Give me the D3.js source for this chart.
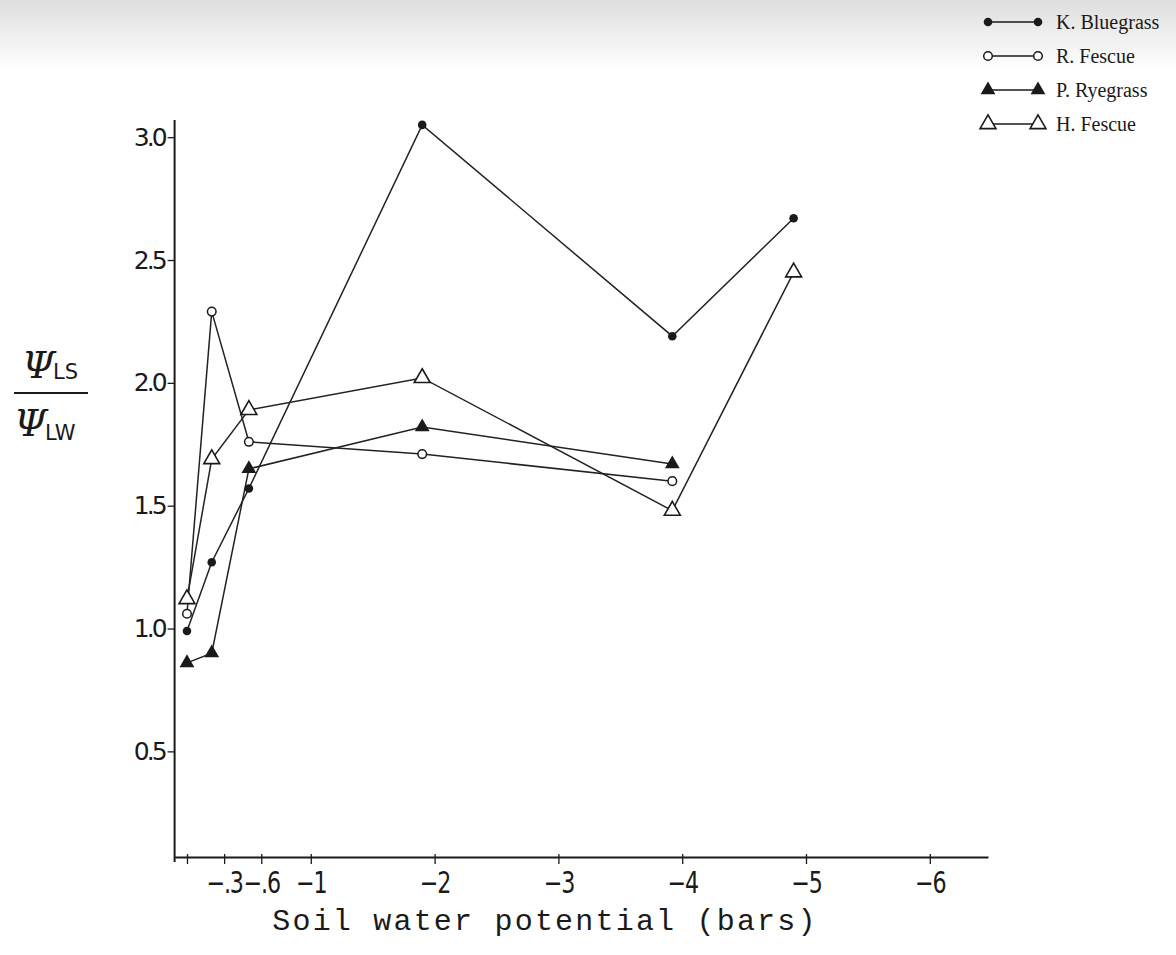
<!DOCTYPE html>
<html>
<head>
<meta charset="utf-8">
<script src="https://cdn.jsdelivr.net/npm/d3@7"></script>
<style>
  body { margin: 0; background: #fff; }
  svg { display: block; }
</style>
</head>
<body>
<svg id="chart"></svg>
<script>
// soil water potential (bars) at each sampling
var potentials = [0, -0.2, -0.5, -1.9, -3.92, -4.9];

var kBluegrass = [0.99, 1.27, 1.57, 3.05, 2.19, 2.67];
var rFescue    = [1.06, 2.29, 1.76, 1.71, 1.60];
var pRyegrass  = [0.86, 0.90, 1.65, 1.82, 1.67];
var hFescue    = [1.12, 1.69, 1.89, 2.02, 1.48, 2.45];

var seriesNames = ['K. Bluegrass', 'R. Fescue', 'P. Ryegrass', 'H. Fescue'];

var xTicks = [0, -0.3, -0.6, -1, -2, -3, -4, -5, -6];
var xTickLabels = ['', '\u2212.3', '\u2212.6', '\u22121', '\u22122', '\u22123', '\u22124', '\u22125', '\u22126'];
var yTicks = [0.5, 1.0, 1.5, 2.0, 2.5, 3.0];
var yTickLabels = ['0.5', '1.0', '1.5', '2.0', '2.5', '3.0'];

var width = 1176, height = 955;
var svg = d3.select('#chart').attr('width', width).attr('height', height);

// faint scan shading along the top edge
var defs = svg.append('defs');
var grad = defs.append('linearGradient').attr('id', 'topShade')
  .attr('x1', 0).attr('y1', 0).attr('x2', 0).attr('y2', 1);
grad.append('stop').attr('offset', '0%').attr('stop-color', '#dedede');
grad.append('stop').attr('offset', '100%').attr('stop-color', '#ffffff');
svg.append('rect').attr('width', width).attr('height', height).attr('fill', '#fff');
svg.append('rect').attr('width', width).attr('height', 70).attr('fill', 'url(#topShade)');

var x = d3.scaleLinear().domain([0.1, -6.47]).range([174.6, 988]);
var y = d3.scaleLinear().domain([0.07, 3.07]).range([857, 120]);

var ink = '#1a1a1a';

// x axis
var xAxis = d3.axisBottom(x)
  .tickValues(xTicks)
  .tickFormat(function (d, i) { return xTickLabels[i]; })
  .tickSizeInner(7)
  .tickSizeOuter(0)
  .tickPadding(8);

var gx = svg.append('g').attr('transform', 'translate(0,' + y(0.07) + ')').call(xAxis);
gx.select('.domain').attr('stroke', ink).attr('stroke-width', 1.8);
gx.selectAll('.tick line').attr('stroke', ink).attr('stroke-width', 1.3).attr('y1', -3);
gx.selectAll('.tick text')
  .attr('fill', ink)
  .attr('font-family', 'DejaVu Sans')
  .attr('font-size', 30)
  .attr('letter-spacing', -1.5)
  .attr('transform', 'scale(0.74,1)');

// y axis
var yAxis = d3.axisLeft(y)
  .tickValues(yTicks)
  .tickFormat(function (d, i) { return yTickLabels[i]; })
  .tickSizeInner(7)
  .tickSizeOuter(0)
  .tickPadding(3);

var gy = svg.append('g').attr('transform', 'translate(' + x(0.1) + ',0)').call(yAxis);
gy.select('.domain').attr('stroke', ink).attr('stroke-width', 2).attr('d', 'M0,' + y(3.07) + 'V' + (y(0.07) + 5));
gy.selectAll('.tick line').attr('stroke', ink).attr('stroke-width', 1.3);
gy.selectAll('.tick text')
  .attr('fill', ink)
  .attr('font-family', 'DejaVu Sans')
  .attr('font-size', 25)
  .attr('letter-spacing', -3);

// axis titles
svg.append('text')
  .attr('x', 545).attr('y', 930)
  .attr('text-anchor', 'middle')
  .attr('font-family', 'Liberation Mono')
  .attr('font-size', 30)
  .attr('letter-spacing', 2.2)
  .attr('fill', ink)
  .text('Soil water potential (bars)');

var ylab = svg.append('g').attr('fill', ink);
ylab.append('text').attr('x', 22).attr('y', 378)
  .attr('font-family', 'DejaVu Serif').attr('font-style', 'italic').attr('font-size', 38).text('\u03A8');
ylab.append('text').attr('x', 53).attr('y', 379)
  .attr('font-family', 'DejaVu Sans').attr('font-size', 21).text('LS');
ylab.append('line').attr('x1', 14).attr('x2', 88).attr('y1', 393).attr('y2', 393)
  .attr('stroke', ink).attr('stroke-width', 2.2);
ylab.append('text').attr('x', 14).attr('y', 436)
  .attr('font-family', 'DejaVu Serif').attr('font-style', 'italic').attr('font-size', 38).text('\u03A8');
ylab.append('text').attr('x', 45).attr('y', 440)
  .attr('font-family', 'DejaVu Sans').attr('font-size', 21).text('LW');

// series
var series = [
  { name: seriesNames[0], values: kBluegrass, marker: 'dot' },
  { name: seriesNames[1], values: rFescue, marker: 'ring' },
  { name: seriesNames[2], values: pRyegrass, marker: 'tri' },
  { name: seriesNames[3], values: hFescue, marker: 'opentri' }
];

var line = d3.line()
  .x(function (d) { return x(d[0]); })
  .y(function (d) { return y(d[1]); });

function drawMarker(g, kind, cx, cy) {
  if (kind === 'dot') {
    g.append('circle').attr('cx', cx).attr('cy', cy).attr('r', 4.3).attr('fill', ink);
  } else if (kind === 'ring') {
    g.append('circle').attr('cx', cx).attr('cy', cy).attr('r', 4.3)
      .attr('fill', '#fff').attr('stroke', ink).attr('stroke-width', 1.5);
  } else if (kind === 'tri') {
    g.append('path').attr('d', d3.symbol(d3.symbolTriangle, 95)())
      .attr('transform', 'translate(' + cx + ',' + cy + ')').attr('fill', ink);
  } else {
    g.append('path').attr('d', d3.symbol(d3.symbolTriangle, 110)())
      .attr('transform', 'translate(' + cx + ',' + cy + ')')
      .attr('fill', '#fff').attr('stroke', ink).attr('stroke-width', 1.6);
  }
}

series.forEach(function (s) {
  var pts = s.values.map(function (v, i) { return [potentials[i], v]; });
  svg.append('path').datum(pts)
    .attr('d', line)
    .attr('fill', 'none')
    .attr('stroke', '#222')
    .attr('stroke-width', 1.5);
});

series.forEach(function (s) {
  var g = svg.append('g');
  s.values.forEach(function (v, i) {
    drawMarker(g, s.marker, x(potentials[i]), y(v));
  });
});

// legend
var legend = svg.append('g');
series.forEach(function (s, i) {
  var ly = 22 + i * 34;
  legend.append('line').attr('x1', 988).attr('x2', 1038).attr('y1', ly).attr('y2', ly)
    .attr('stroke', ink).attr('stroke-width', 1.5);
  drawMarker(legend, s.marker, 988, ly);
  drawMarker(legend, s.marker, 1038, ly);
  legend.append('text')
    .attr('x', 1056).attr('y', ly + 7)
    .attr('font-family', 'Liberation Serif')
    .attr('font-size', 20)
    .attr('fill', ink)
    .text(s.name);
});
</script>
</body>
</html>
